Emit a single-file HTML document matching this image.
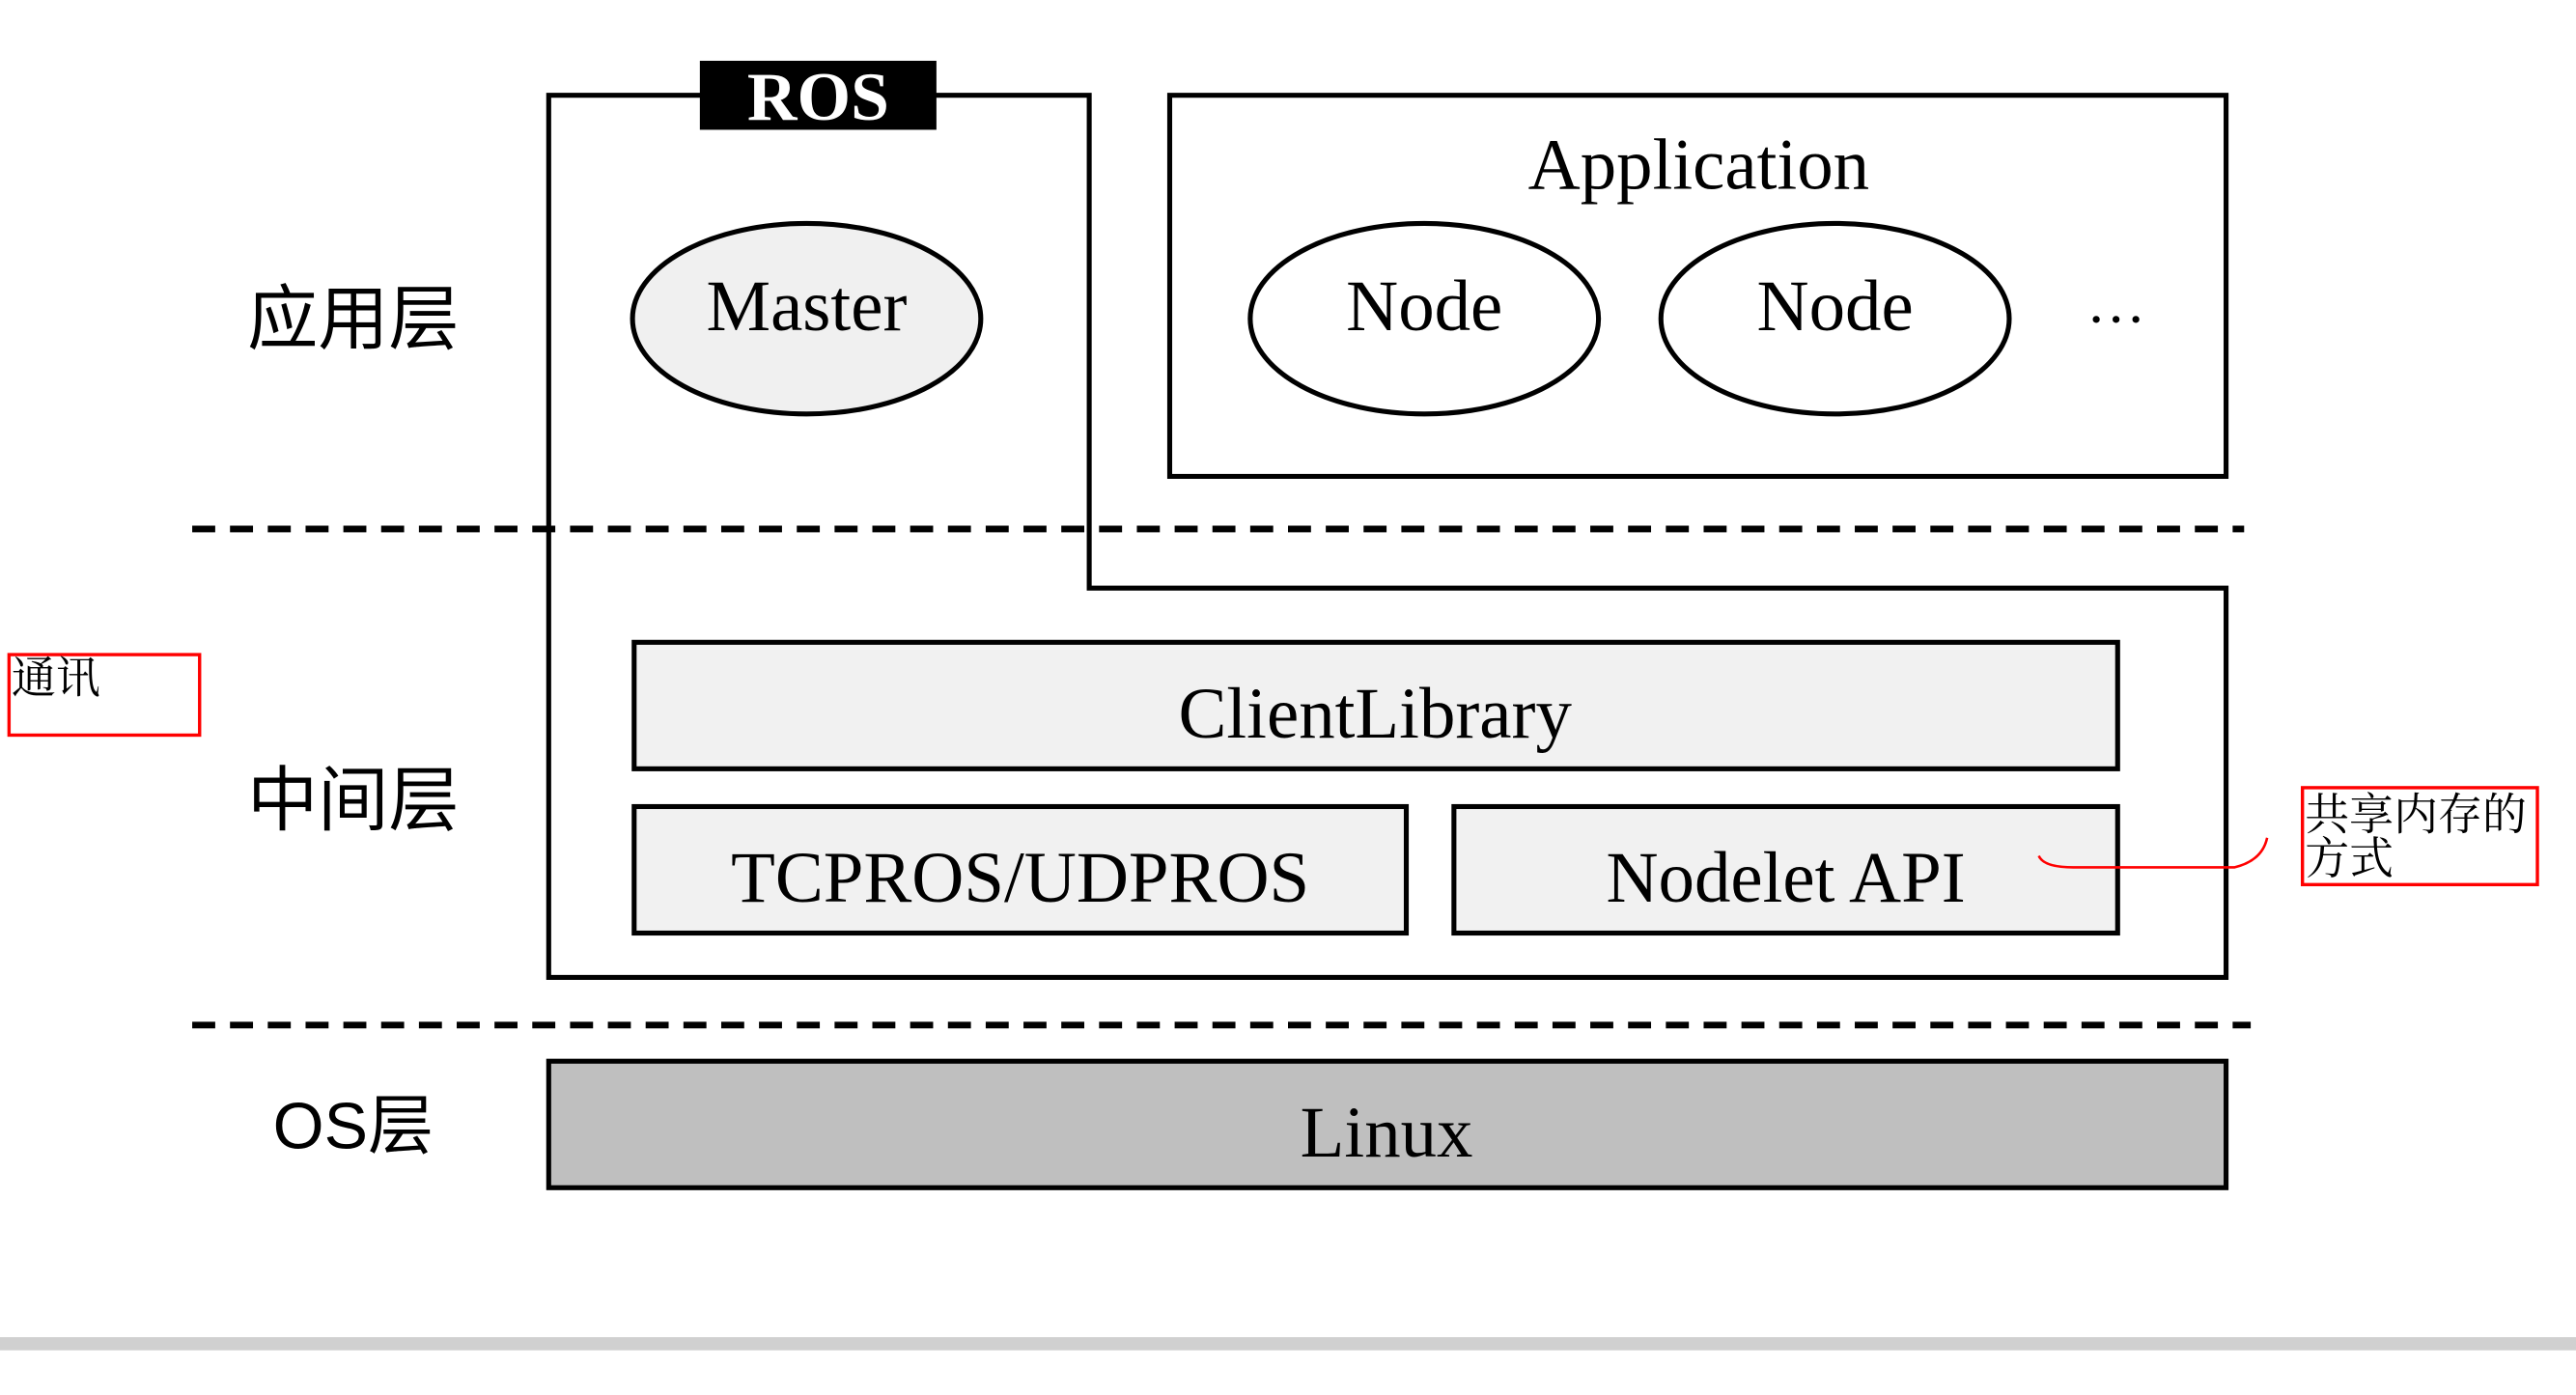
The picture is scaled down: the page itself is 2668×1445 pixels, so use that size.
<!DOCTYPE html>
<html><head><meta charset="utf-8"><style>
html,body{margin:0;padding:0;background:#fff;}
svg{display:block;}
.s{font-family:"Liberation Serif","Noto Serif CJK SC",serif;fill:#000;}
.c{font-family:"Liberation Sans","Noto Sans CJK SC",sans-serif;fill:#000;}
.k{font-family:"Liberation Serif","Noto Serif CJK SC",serif;fill:#000;}
</style></head><body>
<svg width="2668" height="1445" viewBox="0 0 1568 849.2" preserveAspectRatio="none" xmlns="http://www.w3.org/2000/svg">
<rect x="0" y="0" width="1568" height="850" fill="#fff"/>
<path d="M334,58 H663 V358 H1355 V595 H334 Z" fill="none" stroke="#000" stroke-width="3"/>
<rect x="426" y="37" width="144" height="42" fill="#000"/>
<text x="498" y="73" class="s" font-size="42" font-weight="bold" text-anchor="middle" style="fill:#fff">ROS</text>
<rect x="712" y="58" width="643" height="232" fill="#fff" stroke="#000" stroke-width="3"/>
<text x="1034" y="115" class="s" font-size="44" text-anchor="middle">Application</text>
<ellipse cx="491" cy="194" rx="106" ry="58" fill="#f0f0f0" stroke="#000" stroke-width="3"/>
<text x="491" y="201" class="s" font-size="44" text-anchor="middle">Master</text>
<ellipse cx="867" cy="194" rx="106" ry="58" fill="#fff" stroke="#000" stroke-width="3"/>
<text x="867" y="201" class="s" font-size="44" text-anchor="middle">Node</text>
<ellipse cx="1117" cy="194" rx="106" ry="58" fill="#fff" stroke="#000" stroke-width="3"/>
<text x="1117" y="201" class="s" font-size="44" text-anchor="middle">Node</text>
<text x="1288" y="196" class="s" font-size="36" text-anchor="middle">…</text>
<line x1="117" y1="322" x2="1366" y2="322" stroke="#000" stroke-width="4" stroke-dasharray="14,9"/>
<line x1="117" y1="624" x2="1370" y2="624" stroke="#000" stroke-width="4" stroke-dasharray="14,9"/>
<rect x="386" y="391" width="903" height="77" fill="#f1f1f1" stroke="#000" stroke-width="3"/>
<text x="837" y="449" class="s" font-size="44" text-anchor="middle">ClientLibrary</text>
<rect x="386" y="491" width="470" height="77" fill="#f1f1f1" stroke="#000" stroke-width="3"/>
<text x="621" y="549" class="s" font-size="44" text-anchor="middle">TCPROS/UDPROS</text>
<rect x="885" y="491" width="404" height="77" fill="#f1f1f1" stroke="#000" stroke-width="3"/>
<text x="1087" y="549" class="s" font-size="44" text-anchor="middle">Nodelet API</text>
<rect x="334" y="646" width="1021" height="77" fill="#bfbfbf" stroke="#000" stroke-width="3"/>
<text x="844" y="704" class="s" font-size="44" text-anchor="middle">Linux</text>
<text x="215" y="209" class="c" font-size="43" text-anchor="middle">应用层</text>
<text x="215" y="502" class="c" font-size="43" text-anchor="middle">中间层</text>
<text x="215" y="699" class="c" font-size="40" text-anchor="middle">OS层</text>
<rect x="5.5" y="398.5" width="116" height="49" fill="none" stroke="#f00" stroke-width="2"/>
<text x="7" y="422" class="k" font-size="27">通讯</text>
<rect x="1401.5" y="479.5" width="143" height="59" fill="none" stroke="#f00" stroke-width="2"/>
<text x="1403" y="505" class="k" font-size="27">共享内存的</text>
<text x="1403" y="532" class="k" font-size="27">方式</text>
<path d="M1241,521 Q1244,528 1262,528 L1360,528 Q1377,524 1380,510" fill="none" stroke="#f00" stroke-width="1.5"/>
<rect x="0" y="814" width="1568" height="8" fill="#d0d0d0"/>
</svg>
</body></html>
